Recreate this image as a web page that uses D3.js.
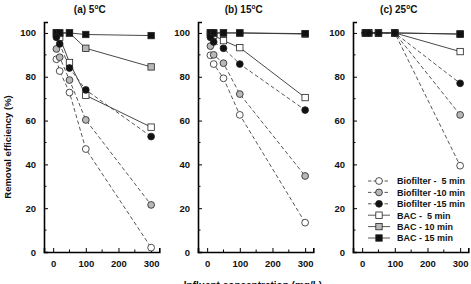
<!DOCTYPE html>
<html><head><meta charset="utf-8">
<script src="https://cdn.jsdelivr.net/npm/d3@7"></script>
<style>
html,body{margin:0;padding:0;background:#fff;}
svg{display:block;font-family:"Liberation Sans",Arial,sans-serif;}
</style></head>
<body><svg id="c" width="471" height="284"></svg>
<script>
// ---- data ----
const concentrations = [10, 20, 50, 100, 300];
const panelTitles = ["(a) 5", "(b) 15", "(c) 25"];
const seriesNames = ["BAC -  5 min", "BAC - 10 min", "BAC - 15 min", "Biofilter -  5 min", "Biofilter -10 min", "Biofilter -15 min"];
const legendOrder = ["Biofilter -  5 min", "Biofilter -10 min", "Biofilter -15 min", "BAC -  5 min", "BAC - 10 min", "BAC - 15 min"];
// panel (a) 5°C
const a_bac5  = [100, 98, 86.5, 71.5, 57];
const a_bac10 = [100, 100, 100, 93, 84.5];
const a_bac15 = [100, 100, 100, 99.3, 98.8];
const a_bio5  = [88, 82.6, 72.8, 47, 2];
const a_bio10 = [92.7, 88.9, 78.5, 60.3, 21.5];
const a_bio15 = [98, 95, 84, 74, 52.7];
// panel (b) 15°C
const b_bac5  = [100, 99, 96.5, 93.3, 70.5];
const b_bac10 = [100, 100, 100, 100, 99.5];
const b_bac15 = [100, 100, 100, 100, 99.7];
const b_bio5  = [89.8, 85.8, 79.3, 62.6, 13.4];
const b_bio10 = [94, 90, 86.2, 72.1, 34.7];
const b_bio15 = [98, 95.9, 93, 85.8, 64.8];
// panel (c) 25°C
const c_bac5  = [100, 100, 100, 100, 91.5];
const c_bac10 = [100, 100, 100, 100, 99.5];
const c_bac15 = [100, 100, 100, 100, 99.5];
const c_bio5  = [100, 100, 100, 100, 39.4];
const c_bio10 = [100, 100, 100, 100, 62.6];
const c_bio15 = [100, 100, 100, 100, 77];
const yTicks = [0, 20, 40, 60, 80, 100];
const yMinor = [10, 30, 50, 70, 90];
const xTicks = [0, 100, 200, 300];
const xMinor = [50, 150, 250];
const yLabel = "Removal efficiency (%)";
const xLabel = "Influent concentration (mg/L)";

const panels = [
  [a_bac5, a_bac10, a_bac15, a_bio5, a_bio10, a_bio15],
  [b_bac5, b_bac10, b_bac15, b_bio5, b_bio10, b_bio15],
  [c_bac5, c_bac10, c_bac15, c_bio5, c_bio10, c_bio15]
];

// ---- styles ----
const styleOf = {
  "BAC -  5 min":      {shape:"square", fill:"#fff",   dash:null},
  "BAC - 10 min":      {shape:"square", fill:"#b8b8b8",dash:null},
  "BAC - 15 min":      {shape:"square", fill:"#111",   dash:null},
  "Biofilter -  5 min":{shape:"circle", fill:"#fff",   dash:"4,2.5"},
  "Biofilter -10 min": {shape:"circle", fill:"#b8b8b8",dash:"4,2.5"},
  "Biofilter -15 min": {shape:"circle", fill:"#111",   dash:"4,2.5"}
};

const svg = d3.select("#c");
const lefts = [44, 198, 353];
const pw = 115.3;
const y = d3.scaleLinear().domain([0, 105]).range([252, 22]);

function marker(g, name, cx, cy) {
  const s = styleOf[name];
  if (s.shape === "circle") {
    g.append("circle").attr("cx", cx).attr("cy", cy).attr("r", 3.4)
      .attr("fill", s.fill).attr("stroke", "#222").attr("stroke-width", 0.8);
  } else {
    g.append("rect").attr("x", cx - 3.2).attr("y", cy - 3.2).attr("width", 6.4).attr("height", 6.4)
      .attr("fill", s.fill).attr("stroke", "#222").attr("stroke-width", 0.8);
  }
}

panels.forEach((series, pi) => {
  const L = lefts[pi];
  const x = d3.scaleLinear().domain([-28, 325]).range([L, L + pw]);
  const g = svg.append("g");

  // axes
  const xAxis = d3.axisBottom(x).tickValues(xTicks).tickSize(-4).tickPadding(8).tickFormat(d3.format("d"));
  const gx = g.append("g").attr("transform", "translate(0,252)").call(xAxis);
  gx.append("g").selectAll("line").data(xMinor).join("line")
    .attr("x1", d => x(d)).attr("x2", d => x(d)).attr("y1", 0).attr("y2", -2.5).attr("stroke", "#000");
  const yAxis = d3.axisLeft(y).tickValues(yTicks).tickSize(-4).tickPadding(8).tickFormat(d3.format("d"));
  const gy = g.append("g").attr("transform", `translate(${L},0)`).call(yAxis);
  gy.append("g").selectAll("line").data(yMinor).join("line")
    .attr("x1", 0).attr("x2", 2.5).attr("y1", d => y(d)).attr("y2", d => y(d)).attr("stroke", "#000");
  [gx, gy].forEach(ax => {
    ax.select(".domain").attr("stroke", "#000").attr("stroke-width", 1.6);
    ax.selectAll(".tick line").attr("stroke", "#000").attr("stroke-width", 1);
    ax.selectAll("text").attr("font-size", 9.5).attr("font-weight", "bold").attr("fill", "#111")
      .attr("font-family", "Liberation Sans, Arial, sans-serif");
  });
  gx.selectAll(".tick text").attr("dy", "0.71em");

  // title
  const t = g.append("text").attr("x", x(112)).attr("y", 13).attr("text-anchor", "middle")
    .attr("font-size", 10).attr("font-weight", "bold").attr("fill", "#111");
  t.append("tspan").text(panelTitles[pi]);
  t.append("tspan").attr("font-size", 6.5).attr("dy", -4).text("o");
  t.append("tspan").attr("dy", 4).text("C");

  // lines
  const line = d3.line().x((d, i) => x(concentrations[i])).y(d => y(d));
  seriesNames.forEach((name, si) => {
    const s = styleOf[name];
    g.append("path").datum(series[si]).attr("d", line).attr("fill", "none")
      .attr("stroke", s.dash ? "#444" : "#333").attr("stroke-width", 0.9)
      .attr("stroke-dasharray", s.dash);
  });
  seriesNames.forEach((name, si) => {
    series[si].forEach((v, i) => marker(g, name, x(concentrations[i]), y(v)));
  });

  // legend in panel c
  if (pi === 2) {
    const lg = g.append("g");
    legendOrder.forEach((name, k) => {
      const yy = 181 + k * 11.4;
      const s = styleOf[name];
      lg.append("line").attr("x1", 368).attr("x2", 390).attr("y1", yy).attr("y2", yy)
        .attr("stroke", "#444").attr("stroke-width", 0.9).attr("stroke-dasharray", s.dash ? "3.5,2" : null);
      marker(lg, name, 379, yy);
      lg.append("text").attr("x", 397).attr("y", yy + 3.3).attr("font-size", 9).attr("font-weight", "bold")
        .attr("fill", "#111").attr("xml:space", "preserve").style("white-space", "pre").text(name);
    });
  }
});

svg.append("text").attr("transform", "translate(10.5,147) rotate(-90)").attr("text-anchor", "middle")
  .attr("font-size", 9.5).attr("font-weight", "bold").attr("fill", "#111").text(yLabel);
svg.append("text").attr("x", 253).attr("y", 289).attr("text-anchor", "middle")
  .attr("font-size", 10).attr("font-weight", "bold").attr("fill", "#111").text(xLabel);
</script></body></html>
